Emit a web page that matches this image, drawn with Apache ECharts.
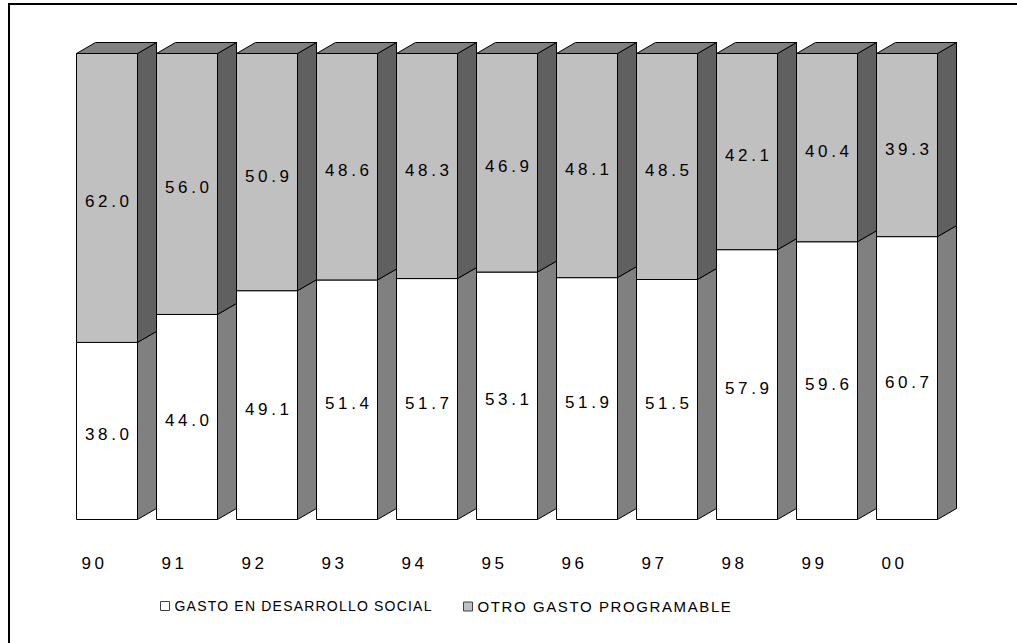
<!DOCTYPE html>
<html>
<head>
<meta charset="utf-8">
<script src="https://cdn.jsdelivr.net/npm/echarts@6/dist/echarts.min.js"></script>
<style>
  html, body { margin: 0; padding: 0; background: #fff; }
  #chart { width: 1017px; height: 643px; }
  #chart text { letter-spacing: 1.2px; }
  #chart text[style*="15px"] { letter-spacing: 1.6px; }
  #chart text[style*="17px"] { letter-spacing: 3.6px; }
</style>
</head>
<body>
<div id="chart"></div>
<script>
const years = ['90', '91', '92', '93', '94', '95', '96', '97', '98', '99', '00'];
const socialSpending = [38.0, 44.0, 49.1, 51.4, 51.7, 53.1, 51.9, 51.5, 57.9, 59.6, 60.7];
const otherSpending = [62.0, 56.0, 50.9, 48.6, 48.3, 46.9, 48.1, 48.5, 42.1, 40.4, 39.3];
const seriesNames = ['GASTO EN DESARROLLO SOCIAL', 'OTRO GASTO PROGRAMABLE'];

const socialData = socialSpending.map((v, i) => [i, 0, v, v]);
const otherData = otherSpending.map((v, i) => [i, socialSpending[i], socialSpending[i] + v, v]);

function makeRender(frontColor, sideColor, drawTop) {
  return function (params, api) {
    const i = api.value(0);
    const base = api.value(1), top = api.value(2), val = api.value(3);
    const p0 = api.coord([i, base]);
    const p1 = api.coord([i, top]);
    const bw = api.size([1, 0])[0];
    const x0 = p0[0] - bw / 2;
    const fw = bw * 61 / 80;
    const dx = bw - fw;
    const dy = 11;
    const yb = p0[1], yt = p1[1];
    const stroke = { stroke: '#000', lineWidth: 1 };
    const children = [
      {
        type: 'polygon',
        shape: { points: [[x0 + fw, yt], [x0 + bw, yt - dy], [x0 + bw, yb - dy], [x0 + fw, yb]] },
        style: Object.assign({ fill: sideColor }, stroke)
      },
      {
        type: 'rect',
        shape: { x: x0, y: yt, width: fw, height: yb - yt },
        style: Object.assign({ fill: frontColor }, stroke)
      }
    ];
    if (drawTop) {
      children.push({
        type: 'polygon',
        shape: { points: [[x0, yt], [x0 + dx, yt - dy], [x0 + bw, yt - dy], [x0 + fw, yt]] },
        style: Object.assign({ fill: '#808080' }, stroke)
      });
    }
    children.push({
      type: 'text',
      style: {
        text: val.toFixed(1),
        x: x0 + fw / 2 + 1.8,
        y: (yt + yb) / 2 + 4,
        align: 'center',
        verticalAlign: 'middle',
        fontSize: 17,
        fontFamily: 'Liberation Sans',
        fill: '#000'
      }
    });
    return { type: 'group', children: children };
  };
}

const chart = echarts.init(document.getElementById('chart'), null, { renderer: 'svg' });
chart.setOption({
  animation: false,
  backgroundColor: '#fff',
  grid: { left: 76.5, top: 53.5, width: 880, height: 466 },
  xAxis: {
    type: 'category',
    data: years,
    boundaryGap: true,
    axisLine: { show: false },
    axisTick: { show: false },
    axisLabel: {
      margin: 35,
      fontSize: 17,
      fontFamily: 'Liberation Sans',
      color: '#000',
      padding: [0, 44, 0, 0]
    }
  },
  yAxis: { type: 'value', min: 0, max: 100, show: false, splitLine: { show: false } },
  legend: [
    {
      data: [seriesNames[0]],
      left: 160, top: 599, padding: 0,
      itemWidth: 9, itemHeight: 9, itemGap: 5,
      icon: 'rect',
      itemStyle: { borderColor: '#404040', borderWidth: 1 },
      textStyle: { fontSize: 14, fontFamily: 'Liberation Sans', color: '#000' }
    },
    {
      data: [seriesNames[1]],
      left: 463, top: 599, padding: 0,
      itemWidth: 9, itemHeight: 9,
      icon: 'rect',
      itemStyle: { borderColor: '#404040', borderWidth: 1 },
      textStyle: { fontSize: 15, fontFamily: 'Liberation Sans', color: '#000' }
    }
  ],
  graphic: [
    {
      type: 'rect',
      shape: { x: 9, y: 4, width: 1100, height: 700 },
      style: { fill: 'none', stroke: '#000', lineWidth: 2 },
      silent: true
    }
  ],
  series: [
    {
      name: seriesNames[0],
      type: 'custom',
      renderItem: makeRender('#ffffff', '#808080', false),
      itemStyle: { color: '#ffffff' },
      encode: { x: 0, y: [1, 2] },
      data: socialData
    },
    {
      name: seriesNames[1],
      type: 'custom',
      renderItem: makeRender('#c0c0c0', '#606060', true),
      itemStyle: { color: '#c0c0c0' },
      encode: { x: 0, y: [1, 2] },
      data: otherData
    }
  ]
});
</script>
</body>
</html>
